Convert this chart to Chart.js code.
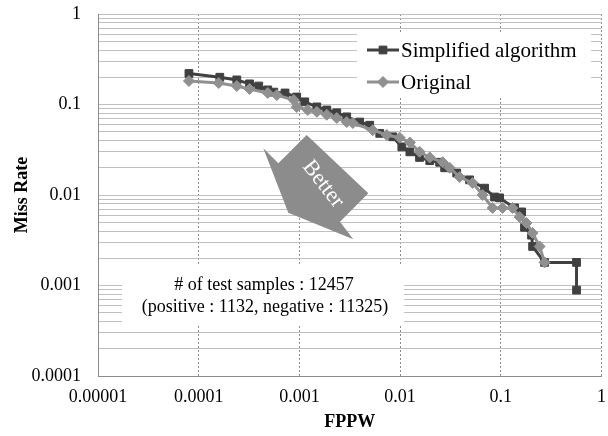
<!DOCTYPE html>
<html>
<head>
<meta charset="utf-8">
<script src="https://cdn.jsdelivr.net/npm/chart.js@4.4.0/dist/chart.umd.min.js"></script>
<style>
  html, body { margin: 0; padding: 0; background: #fff; }
  #wrap { width: 608px; height: 436px; position: relative; }
</style>
</head>
<body>
<div id="wrap"><canvas id="myChart"></canvas></div>
<script>
// Simplified algorithm (dark squares)
var simpFppw = [0.00008, 0.000162, 0.000239, 0.00032, 0.000395, 0.000485, 0.000557, 0.00072, 0.00094, 0.00113,
                0.00149, 0.00187, 0.00235, 0.00295, 0.00397, 0.00499, 0.00628, 0.00845, 0.0104, 0.0125,
                0.0156, 0.0197, 0.0247, 0.0277, 0.0365, 0.049, 0.069, 0.0867, 0.0973, 0.137,
                0.161, 0.172, 0.202, 0.207, 0.272, 0.565, 0.565];
var simpMiss = [0.22, 0.20, 0.187, 0.169, 0.160, 0.145, 0.137, 0.134, 0.121, 0.107,
                0.094, 0.087, 0.081, 0.073, 0.064, 0.059, 0.048, 0.044, 0.034, 0.030,
                0.026, 0.024, 0.023, 0.020, 0.0175, 0.0147, 0.0119, 0.0095, 0.0093, 0.0072,
                0.0065, 0.0044, 0.0036, 0.0027, 0.0018, 0.0018, 0.00089];

// Original (light diamonds)
var origFppw = [0.00008, 0.000158, 0.000239, 0.00032, 0.000485, 0.000597, 0.00088, 0.00094, 0.00121, 0.00149,
                0.00187, 0.00235, 0.00295, 0.00339, 0.00535, 0.00737, 0.0099, 0.0125, 0.0156, 0.0197,
                0.0265, 0.031, 0.039, 0.0525, 0.066, 0.083, 0.104, 0.131, 0.154, 0.180,
                0.207, 0.243, 0.272];
var origMiss = [0.182, 0.173, 0.160, 0.148, 0.134, 0.127, 0.112, 0.094, 0.087, 0.083,
                0.077, 0.071, 0.064, 0.0625, 0.052, 0.046, 0.043, 0.038, 0.030, 0.026,
                0.023, 0.020, 0.0158, 0.0136, 0.0100, 0.0072, 0.0072, 0.0072, 0.0057, 0.0049,
                0.0038, 0.0027, 0.0018];

var seriesNames = ['Simplified algorithm', 'Original'];
var xTickValues = [0.00001, 0.0001, 0.001, 0.01, 0.1, 1];
var xTickLabels = ['0.00001', '0.0001', '0.001', '0.01', '0.1', '1'];
var yTickValues = [0.0001, 0.001, 0.01, 0.1, 1];
var yTickLabels = ['0.0001', '0.001', '0.01', '0.1', '1'];
var xTitle = 'FPPW';
var yTitle = 'Miss Rate';
var noteLines = ['# of test samples : 12457', '(positive : 1132, negative : 11325)'];
var arrowText = 'Better';

var darkColor = '#404040';
var lightColor = '#909090';
var serif = '"Liberation Serif", "Times New Roman", serif';

function toPoints(xs, ys) {
  return xs.map(function (x, i) { return { x: x, y: ys[i] }; });
}

function findLabel(values, labels, v) {
  for (var i = 0; i < values.length; i++) {
    if (Math.abs(Math.log10(values[i]) - Math.log10(v)) < 1e-6) return labels[i];
  }
  return '';
}

// legend, note box and arrow drawn over the grid
var extras = {
  id: 'extras',
  beforeDatasetsDraw: function (chart) {
    var ctx = chart.ctx;
    ctx.save();

    // legend box
    ctx.fillStyle = '#fff';
    ctx.fillRect(357, 33, 234, 64);
    var rows = [
      { y: 50, color: darkColor, style: 'rect', name: seriesNames[0] },
      { y: 82, color: lightColor, style: 'rectRot', name: seriesNames[1] }
    ];
    rows.forEach(function (r) {
      ctx.strokeStyle = r.color;
      ctx.lineWidth = 3;
      ctx.beginPath();
      ctx.moveTo(367, r.y);
      ctx.lineTo(399, r.y);
      ctx.stroke();
      ctx.fillStyle = r.color;
      ctx.lineWidth = 1;
      Chart.helpers.drawPoint(ctx, { pointStyle: r.style, radius: 5.5, rotation: 0, borderWidth: 1 }, 383, r.y);
      ctx.fillStyle = '#000';
      ctx.font = '21px ' + serif;
      ctx.textAlign = 'left';
      ctx.textBaseline = 'middle';
      ctx.fillText(r.name, 401, r.y + 1);
    });

    // note box
    ctx.fillStyle = '#fff';
    ctx.fillRect(122, 265, 282, 61);
    ctx.fillStyle = '#000';
    ctx.font = '18px ' + serif;
    ctx.textAlign = 'center';
    ctx.textBaseline = 'middle';
    ctx.fillText(noteLines[0], 264, 285);
    ctx.fillText(noteLines[1], 265, 307);

    // arrow
    ctx.fillStyle = '#8c8c8c';
    ctx.beginPath();
    ctx.moveTo(306.7, 135);
    ctx.lineTo(368.3, 193.3);
    ctx.lineTo(340, 221.7);
    ctx.lineTo(353.3, 239.3);
    ctx.lineTo(288.3, 212.7);
    ctx.lineTo(263.3, 148.3);
    ctx.lineTo(278.3, 163.3);
    ctx.closePath();
    ctx.fill();
    ctx.translate(323, 184);
    ctx.rotate(52 * Math.PI / 180);
    ctx.fillStyle = '#fff';
    ctx.font = '22px ' + serif;
    ctx.fillText(arrowText, 0, 0);

    ctx.restore();
  }
};

var ctx = document.getElementById('myChart');
var myChart = new Chart(ctx, {
  type: 'line',
  plugins: [extras],
  data: {
    datasets: [{
      label: seriesNames[0],
      data: toPoints(simpFppw, simpMiss),
      borderColor: darkColor,
      backgroundColor: darkColor,
      borderWidth: 3,
      pointStyle: 'rect',
      pointRadius: 5.5,
      pointBorderWidth: 1,
      tension: 0,
      order: 1
    }, {
      label: seriesNames[1],
      data: toPoints(origFppw, origMiss),
      borderColor: lightColor,
      backgroundColor: lightColor,
      borderWidth: 3,
      pointStyle: 'rectRot',
      pointRadius: 5.5,
      pointBorderWidth: 1,
      tension: 0,
      order: 0
    }]
  },
  options: {
    responsive: true,
    maintainAspectRatio: false,
    animation: false,
    layout: { padding: { top: 14, right: 6, left: 0, bottom: 0 } },
    plugins: {
      legend: { display: false },
      tooltip: { enabled: false }
    },
    scales: {
      x: {
        type: 'logarithmic',
        min: 0.00001,
        max: 1,
        afterBuildTicks: function (scale) {
          scale.ticks = xTickValues.map(function (v) { return { value: v }; });
        },
        afterFit: function (scale) {
          scale.height = 60;
          scale.paddingLeft = 0;
          scale.paddingRight = 0;
        },
        grid: { color: '#8c8c8c', lineWidth: 1, drawTicks: false },
        border: { color: '#8c8c8c', width: 1, dash: [2, 2] },
        ticks: {
          autoSkip: false,
          maxRotation: 0,
          padding: 10,
          color: '#000',
          font: { family: serif, size: 18 },
          callback: function (value) { return findLabel(xTickValues, xTickLabels, value); }
        },
        title: {
          display: true,
          text: xTitle,
          color: '#000',
          font: { family: serif, size: 18, weight: 'bold' },
          padding: { top: 0, bottom: 3 }
        }
      },
      y: {
        type: 'logarithmic',
        min: 0.0001,
        max: 1,
        afterBuildTicks: function (scale) {
          var t = [];
          for (var e = -4; e < 0; e++) {
            for (var m = 1; m < 10; m++) {
              t.push({ value: parseFloat((m * Math.pow(10, e)).toPrecision(3)) });
            }
          }
          t.push({ value: 1 });
          scale.ticks = t;
        },
        afterFit: function (scale) {
          scale.width = 98;
          scale.paddingTop = 0;
          scale.paddingBottom = 0;
        },
        grid: { color: '#c0c0c0', lineWidth: 1, drawTicks: false },
        border: { color: '#8c8c8c', width: 1 },
        ticks: {
          autoSkip: false,
          padding: 17,
          color: '#000',
          font: { family: serif, size: 18 },
          callback: function (value) { return findLabel(yTickValues, yTickLabels, value); }
        },
        title: {
          display: true,
          text: yTitle,
          color: '#000',
          font: { family: serif, size: 18, weight: 'bold' },
          padding: { top: 12, bottom: 0 }
        }
      }
    }
  }
});
</script>
</body>
</html>
